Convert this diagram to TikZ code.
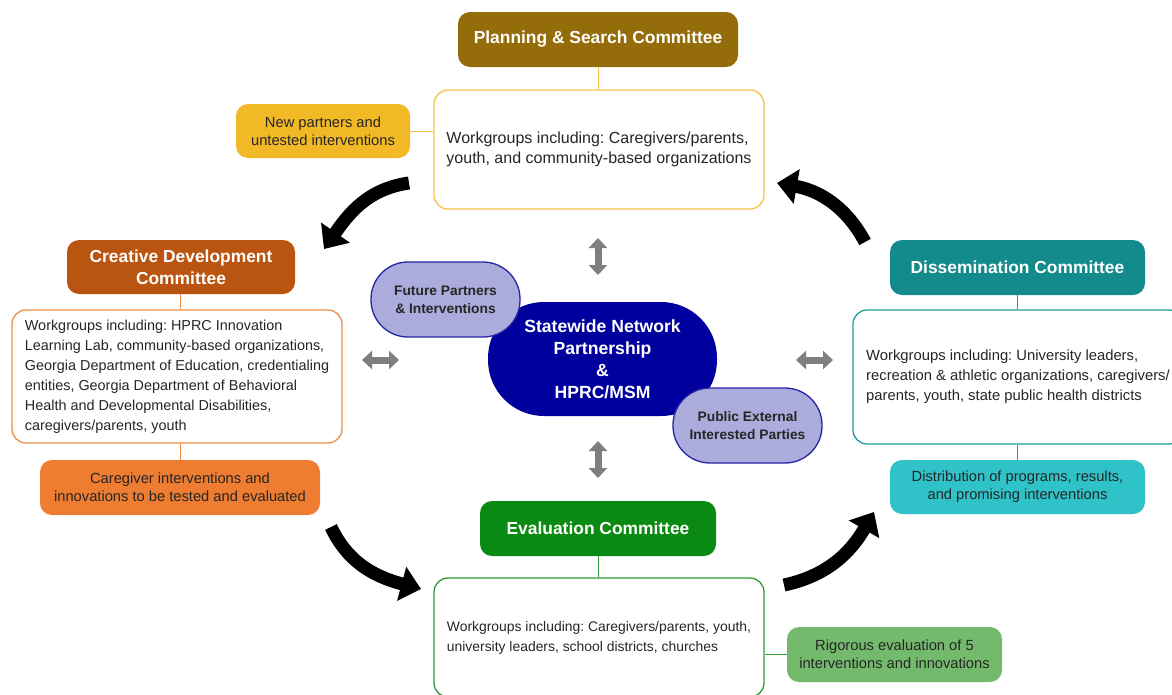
\documentclass[tikz,border=0pt]{standalone}
\usepackage{fontspec}
\setmainfont{Liberation Sans}
\usetikzlibrary{arrows.meta}
\frenchspacing

\definecolor{planDark}{HTML}{946C0A}
\definecolor{planLine}{HTML}{F5C447}
\definecolor{planFill}{HTML}{F2B927}
\definecolor{creaDark}{HTML}{BA5511}
\definecolor{creaLine}{HTML}{F08C42}
\definecolor{creaFill}{HTML}{EE7D31}
\definecolor{dissDark}{HTML}{138B8D}
\definecolor{dissLine}{HTML}{1F9C9E}
\definecolor{dissFill}{HTML}{2FC2C8}
\definecolor{evalDark}{HTML}{0B8A13}
\definecolor{evalLine}{HTML}{2E9B35}
\definecolor{evalFill}{HTML}{74BA6C}
\definecolor{hubFill}{HTML}{00009E}
\definecolor{partyFill}{HTML}{ABABDC}
\definecolor{partyLine}{HTML}{2525A8}
\definecolor{swapGray}{HTML}{7F7F7F}

\tikzset{
    committee/.style={rounded corners=12pt, text=white, inner sep=0pt, align=center,
        font=\bfseries\fontsize{17.4}{22}\selectfont},
    workbox/.style={draw, line width=1.3pt, fill=white, rounded corners=14pt, inner sep=0pt,
        align=left, text=black!85, font=\fontsize{#1}{20}\selectfont},
    workbox/.default=14.5,
    outcome/.style={rounded corners=12pt, inner sep=0pt, align=center, text=black!85,
        font=\fontsize{14.7}{18}\selectfont},
    party/.style={draw=partyLine, fill=partyFill, line width=1.3pt, rounded corners=37pt,
        minimum width=149pt, minimum height=75pt, inner sep=0pt, align=center,
        text=black!85, font=\bfseries\fontsize{13.8}{18}\selectfont},
    tie/.style={line width=0.9pt},
    cyclearrow/.style={line width=13pt, -{Triangle[length=20pt,width=34pt]}},
    swap/.style={swapGray, line width=7pt,
        {Triangle[length=10pt,width=18pt]}-{Triangle[length=10pt,width=18pt]}},
}

\begin{document}
\begin{tikzpicture}[x=1pt, y=1pt]
\useasboundingbox (0,0) rectangle (1172,-694);
\clip (0,0) rectangle (1172,-694);
\fill[white] (0,0) rectangle (1172,-694);

% planning & search (top)
\node[committee, fill=planDark, minimum width=280pt, minimum height=55pt] (plan) at (598,-39.5) {Planning \& Search Committee};
\node[workbox=16, draw=planLine, minimum width=330pt, minimum height=119pt] (planwg) at (599,-149.5)
    {Workgroups including: Caregivers/parents,\\youth, and community-based organizations};
\node[outcome, fill=planFill, minimum width=174pt, minimum height=54pt] (planout) at (323,-131)
    {New partners and\\untested interventions};
\draw[tie, planLine] (plan.south) -- (plan.south |- planwg.north);
\draw[tie, planLine] (planout.east) -- (planout.east -| planwg.west);

% creative development (left)
\node[committee, fill=creaDark, minimum width=228pt, minimum height=54pt] (crea) at (181,-267) {Creative Development\\Committee};
\node[workbox=14.4, draw=creaLine, minimum width=330pt, minimum height=133pt] (creawg) at (177,-376.5)
    {Workgroups including: HPRC Innovation\\Learning Lab, community-based organizations,\\Georgia Department of Education, credentialing\\entities, Georgia Department of Behavioral\\Health and Developmental Disabilities,\\caregivers/parents, youth};
\node[outcome, fill=creaFill, minimum width=280pt, minimum height=55pt] (creaout) at (180,-487.5)
    {Caregiver interventions and\\innovations to be tested and evaluated};
\draw[tie, creaLine] (crea.south -| 180,0) -- (creawg.north -| 180,0);
\draw[tie, creaLine] (creawg.south -| 180,0) -- (creaout.north -| 180,0);

% dissemination (right)
\node[committee, fill=dissDark, minimum width=255pt, minimum height=55pt] (diss) at (1017.5,-267.5) {Dissemination Committee};
\node[workbox=14.8, draw=dissLine, minimum width=330pt, minimum height=134pt] (disswg) at (1018,-377)
    {Workgroups including: University leaders,\\recreation \& athletic organizations, caregivers/\\parents, youth, state public health districts};
\node[outcome, fill=dissFill, minimum width=255pt, minimum height=54pt] (dissout) at (1017.5,-487)
    {Distribution of programs, results,\\and promising interventions};
\draw[tie, dissLine] (diss.south) -- (diss.south |- disswg.north);
\draw[tie, dissLine] (disswg.south -| diss.south) -- (dissout.north -| diss.south);

% evaluation (bottom)
\node[committee, fill=evalDark, minimum width=236pt, minimum height=55pt] (eval) at (598,-528.5) {Evaluation Committee};
\node[workbox=13.9, draw=evalLine, minimum width=330pt, minimum height=119pt] (evalwg) at (599,-637.5)
    {Workgroups including: Caregivers/parents, youth,\\university leaders, school districts, churches};
\node[outcome, fill=evalFill, minimum width=215pt, minimum height=55pt] (evalout) at (894.5,-654.5)
    {Rigorous evaluation of 5\\interventions and innovations};
\draw[tie, evalLine] (eval.south) -- (eval.south |- evalwg.north);
\draw[tie, evalLine] (evalout.west) -- (evalout.west -| evalwg.east);

% hub in the middle
\node[fill=hubFill, rounded corners=56pt, minimum width=229pt, minimum height=114pt, inner sep=0pt,
    text=white, align=center, font=\bfseries\fontsize{17.6}{22}\selectfont] (hub) at (602.5,-359)
    {Statewide Network\\Partnership\\\&\\HPRC/MSM};
\node[party] (future) at (445.5,-299.5) {Future Partners\\\& Interventions};
\node[party] (public) at (747.5,-425.5) {Public External\\Interested Parties};

% two-way links
\coordinate (up1) at (598,-238);   \coordinate (up2) at (598,-275);
\coordinate (dn1) at (598,-441);   \coordinate (dn2) at (598,-478);
\coordinate (lf1) at (362,-360);   \coordinate (lf2) at (399,-360);
\coordinate (rt1) at (796,-360);   \coordinate (rt2) at (833,-360);
\draw[swap] (up1) -- (up2);
\draw[swap] (dn1) -- (dn2);
\draw[swap] (lf1) -- (lf2);
\draw[swap] (rt1) -- (rt2);

% the cycle
\coordinate (tlA) at (409,-183);  \coordinate (tlB) at (324,-249);
\coordinate (blA) at (331,-527);  \coordinate (blB) at (421,-589);
\coordinate (brA) at (784,-585);  \coordinate (brB) at (874,-512);
\coordinate (trA) at (865,-242);  \coordinate (trB) at (777,-183);
\draw[cyclearrow] (tlA) to[out=188, in=55] (tlB);
\draw[cyclearrow] (blA) to[out=-65, in=165] (blB);
\draw[cyclearrow] (brA) to[out=12, in=240] (brB);
\draw[cyclearrow] (trA) to[out=118, in=-10] (trB);
\end{tikzpicture}
\end{document}
